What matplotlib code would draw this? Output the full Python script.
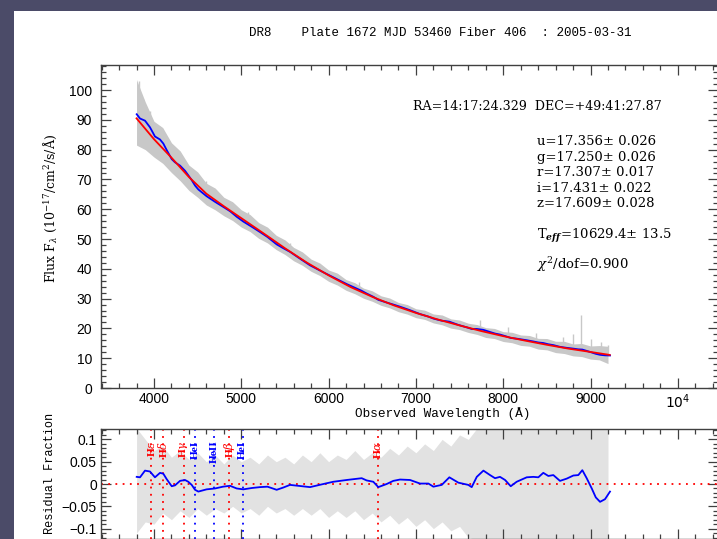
import numpy as np
import matplotlib
matplotlib.use("Agg")
import matplotlib.pyplot as plt
from matplotlib.patches import Rectangle
from matplotlib.ticker import MultipleLocator

# best fit model (red)
wave_model = [3800, 3900, 4000, 4200, 4400, 4600, 4800, 5000, 5250, 5500, 5750, 6000, 6250,
              6500, 6750, 7000, 7250, 7500, 7750, 8000, 8250, 8500, 8750, 9000, 9220]
flux_model = [90.5, 87.0, 83.5, 77.3, 70.8, 65.2, 61.0, 57.0, 52.0, 46.9, 42.1, 37.8, 33.9,
              30.6, 27.7, 25.2, 23.0, 21.0, 19.1, 17.4, 15.9, 14.5, 13.2, 12.1, 11.1]

# smoothed residual fraction (blue)
wave_res = [3802, 3840, 3897, 3954, 4011, 4069, 4107, 4145, 4203, 4241, 4298, 4355, 4393,
            4432, 4470, 4508, 4603, 4699, 4790, 4871, 4947, 5023, 5120, 5214, 5300, 5405,
            5480, 5558, 5650, 5787, 5940, 6054, 6207, 6379, 6436, 6512, 6569, 6665, 6741,
            6818, 6933, 7047, 7143, 7200, 7296, 7383, 7486, 7600, 7639, 7697, 7773, 7849,
            7906, 7963, 8021, 8086, 8154, 8269, 8345, 8402, 8459, 8517, 8574, 8650, 8727,
            8803, 8860, 8906, 8956, 9014, 9060, 9109, 9166, 9223]
res_smooth = [0.016, 0.015, 0.030, 0.028, 0.015, 0.025, 0.023, 0.011, -0.005, -0.003, 0.007,
              0.009, 0.005, -0.002, -0.013, -0.017, -0.012, -0.010, -0.006, -0.004, -0.010,
              -0.012, -0.009, -0.007, -0.006, -0.013, -0.008, -0.002, -0.004, -0.007, 0.000,
              0.005, 0.009, 0.013, 0.008, 0.005, -0.007, 0.000, 0.007, 0.010, 0.009, 0.001,
              0.001, -0.006, -0.002, 0.015, 0.003, -0.002, -0.007, 0.016, 0.030, 0.020, 0.013,
              0.016, 0.009, -0.005, 0.005, 0.015, 0.016, 0.015, 0.025, 0.018, 0.020, 0.007,
              0.012, 0.019, 0.020, 0.031, 0.013, -0.010, -0.030, -0.040, -0.034, -0.017]

# gray spectrum: spread above / below the model, 100 A steps from 3800 to 9200
wave_gray = np.arange(3800, 9201, 100)
flux_up = [13, 9, 6, 7, 5, 5.5, 4, 4.5, 3.5, 4,
           3, 3.5, 2.8, 3.2, 2.5, 3, 2.3, 2.8, 2.2, 2.6,
           2.0, 2.4, 1.8, 2.3, 1.7, 2.1, 1.6, 2.0, 1.5, 1.9,
           1.5, 1.8, 1.4, 1.8, 1.4, 1.9, 1.4, 1.8, 1.5, 1.8,
           1.5, 1.9, 1.5, 1.9, 1.6, 2.0, 1.6, 2.1, 1.7, 2.2,
           1.8, 2.4, 2.0, 2.6, 2.8]
flux_lo = [9, 7, 6, 5, 5, 4.5, 4.5, 4, 3.8, 3.3,
           3.2, 2.8, 3.0, 2.5, 2.8, 2.3, 2.5, 2.1, 2.3, 1.9,
           2.1, 1.8, 2.0, 1.7, 1.9, 1.6, 1.8, 1.5, 1.7, 1.4,
           1.6, 1.4, 1.6, 1.3, 1.6, 1.4, 1.7, 1.4, 1.6, 1.5,
           1.8, 1.5, 1.8, 1.6, 1.9, 1.6, 2.0, 1.7, 2.1, 1.9,
           2.2, 2.0, 2.4, 2.2, 3.0]
spike_wave = [3830, 3870, 3950, 4060, 4180, 4310, 4420, 4590, 4720, 5080, 5560, 6350, 7730,
              8050, 8380, 8690, 8800, 8890, 9000, 9120, 9200]
spike_top = [103, 97, 93, 88, 82, 77, 73, 69.5, 65, 59, 48.5, 35.5, 22.8,
             20.5, 18.5, 17.0, 18.0, 24.5, 16.5, 15.5, 14.5]

# gray residual spread
res_up = [0.125, 0.10, 0.075, 0.085, 0.06, 0.075, 0.055, 0.07, 0.05, 0.065,
          0.045, 0.065, 0.05, 0.06, 0.045, 0.065, 0.05, 0.06, 0.045, 0.065,
          0.05, 0.07, 0.05, 0.065, 0.055, 0.075, 0.055, 0.07, 0.06, 0.08,
          0.065, 0.085, 0.07, 0.09, 0.075, 0.1, 0.085, 0.11, 0.1, 0.125,
          0.125, 0.125, 0.125, 0.125, 0.125, 0.125, 0.125, 0.125, 0.125, 0.125,
          0.125, 0.125, 0.125, 0.125, 0.125]
res_lo = [-0.11, -0.085, -0.09, -0.065, -0.08, -0.06, -0.075, -0.055, -0.07, -0.055,
          -0.065, -0.05, -0.065, -0.055, -0.07, -0.05, -0.065, -0.055, -0.07, -0.055,
          -0.07, -0.055, -0.075, -0.06, -0.075, -0.06, -0.08, -0.065, -0.085, -0.07,
          -0.09, -0.075, -0.095, -0.08, -0.1, -0.085, -0.105, -0.095, -0.12, -0.125,
          -0.125, -0.125, -0.125, -0.125, -0.125, -0.125, -0.125, -0.125, -0.125, -0.125,
          -0.125, -0.125, -0.125, -0.125, -0.125]

# line markers
line_names = [r"H$\epsilon$", r"H$\delta$", r"H$\gamma$", "HeI", "HeII", r"H$\beta$", "HeI", r"H$\alpha$"]
line_waves = [3970, 4102, 4341, 4471, 4686, 4861, 5016, 6563]
line_colors = ["red", "red", "red", "blue", "blue", "red", "blue", "red"]

info_lines = ["u=17.356± 0.026", "g=17.250± 0.026", "r=17.307± 0.017",
              "i=17.431± 0.022", "z=17.609± 0.028"]

plt.rcParams["mathtext.fontset"] = "dejavuserif"
W, H = 717, 539
fig = plt.figure(figsize=(W / 100, H / 100), dpi=100)
fig.patch.set_facecolor("#4b4b68")
fig.add_artist(Rectangle((14 / W, 0), 1, 1 - 11 / H, transform=fig.transFigure,
                         facecolor="white", edgecolor="none", zorder=-1))

sans = "Liberation Sans"
mono = "Liberation Mono"
serif = "DejaVu Serif"
spine_col = "#404040"
gray_top = "#c8c8c8"
gray_res = "#e2e2e2"

ax = fig.add_axes([101 / W, 1 - 388 / H, 617 / W, 323 / H])
ax2 = fig.add_axes([101 / W, 1 - 539 / H, 617 / W, 110 / H])

model_gray = np.interp(wave_gray, wave_model, flux_model)
ax.fill_between(wave_gray, model_gray - np.array(flux_lo), model_gray + np.array(flux_up),
                color=gray_top, lw=0)
spike_base = np.interp(spike_wave, wave_model, flux_model)
ax.vlines(spike_wave, spike_base, spike_top, color=gray_top, lw=1.0)
flux_smooth = np.interp(wave_res, wave_model, flux_model) * (1 + np.array(res_smooth))
ax.plot(wave_res, flux_smooth, color="blue", lw=1.3)
ax.plot(wave_model, flux_model, color="red", lw=1.3)

ax.set_xlim(3393, 10460)
ax.set_ylim(0, 108.4)
ax.set_xticks([4000, 5000, 6000, 7000, 8000, 9000, 10000])
ax.set_xticklabels(["4000", "5000", "6000", "7000", "8000", "9000", r"$\mathsf{10^4}$"],
                   fontfamily=sans, fontsize=10)
ax.xaxis.set_minor_locator(MultipleLocator(200))
ax.set_yticks(range(0, 101, 10))
ax.set_yticklabels([str(v) for v in range(0, 101, 10)], fontfamily=sans, fontsize=10)
ax.yaxis.set_minor_locator(MultipleLocator(2))
ax.tick_params(which="both", direction="in", top=True, right=True, color=spine_col, width=0.9)
ax.tick_params(which="major", length=7)
ax.tick_params(which="minor", length=3.5)
ax.tick_params(axis="y", pad=6.5)
ax.tick_params(axis="x", pad=3)

fig.text(413 / W, 1 - 106 / H, "RA=14:17:24.329  DEC=+49:41:27.87", fontfamily=serif,
         fontsize=9.1, va="center")
for k, s in enumerate(info_lines):
    fig.text(537 / W, 1 - (142 + 15.5 * k) / H, s, fontfamily=serif, fontsize=9.5, va="center")
fig.text(537 / W, 1 - 236 / H, r"T$_{\mathbfit{eff}}$=10629.4± 13.5", fontfamily=serif,
         fontsize=9.5, va="center")
fig.text(537 / W, 1 - 265 / H, r"$\chi^2$/dof=0.900", fontfamily=serif, fontsize=9.5, va="center")

fig.text(440 / W, 1 - 33 / H, "DR8    Plate 1672 MJD 53460 Fiber 406  : 2005-03-31",
         fontfamily=mono, fontsize=9, ha="center", va="center")
fig.text(443 / W, 1 - 414 / H, "Observed Wavelength (Å)", fontfamily=mono, fontsize=9.2,
         ha="center", va="center")
fig.text(50 / W, 1 - 208 / H, r"Flux F$_\lambda$ (10$^{-17}$/cm$^2$/s/Å)", fontfamily=serif,
         fontsize=9, rotation=90, ha="center", va="center")
fig.text(50 / W, 1 - 473 / H, "Residual Fraction", fontfamily=mono, fontsize=8.6,
         rotation=90, ha="center", va="center")

# residual panel
ax2.fill_between(wave_gray, res_lo, res_up, color=gray_res, lw=0)
ax2.axhline(0, color="red", ls=(0, (1, 3)), lw=1.3)
for w, c, name in zip(line_waves, line_colors, line_names):
    ax2.axvline(w, color=c, ls=(0, (1, 3)), lw=1.3)
    ax2.text(w, 0.097, name, color=c, fontfamily="Liberation Serif", fontweight="bold",
             fontsize=8.2, rotation=90, ha="center", va="top")
ax2.plot(wave_res, res_smooth, color="blue", lw=1.3)

ax2.set_xlim(3393, 10460)
ax2.set_ylim(-0.1233, 0.1233)
ax2.set_xticks([4000, 5000, 6000, 7000, 8000, 9000, 10000])
ax2.set_xticklabels([])
ax2.xaxis.set_minor_locator(MultipleLocator(200))
ax2.set_yticks([-0.1, -0.05, 0, 0.05, 0.1])
ax2.set_yticklabels(["\u22120.1", "\u22120.05", "0", "0.05", "0.1"], fontfamily=sans, fontsize=10)
ax2.yaxis.set_minor_locator(MultipleLocator(0.01))
ax2.tick_params(which="both", direction="in", top=True, right=True, color=spine_col, width=0.9)
ax2.tick_params(which="major", length=7)
ax2.tick_params(which="minor", length=3.5)
ax2.tick_params(axis="y", pad=3)

for a in (ax, ax2):
    for sp in a.spines.values():
        sp.set_color(spine_col)
        sp.set_linewidth(1.0)

fig.savefig("out.png", dpi=100, facecolor=fig.get_facecolor())
